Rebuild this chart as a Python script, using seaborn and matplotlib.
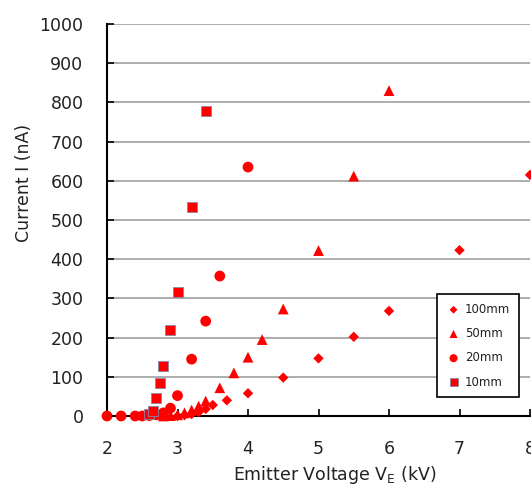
import numpy as np
import pandas as pd
import matplotlib
matplotlib.use("Agg")
import matplotlib.pyplot as plt
import seaborn as sns

# ---- data ----
x_100 = [3.0, 3.1, 3.2, 3.3, 3.4, 3.5, 3.7, 4.0, 4.5, 5.0, 5.5, 6.0, 7.0, 8.0]
y_100 = [0, 2, 5, 10, 18, 28, 40, 58, 98, 147, 202, 268, 423, 615]
x_50 = [2.8, 2.9, 3.0, 3.1, 3.2, 3.3, 3.4, 3.6, 3.8, 4.0, 4.2, 4.5, 5.0, 5.5, 6.0]
y_50 = [0, 1, 3, 8, 15, 25, 38, 72, 110, 150, 195, 273, 422, 612, 830]
x_20 = [2.0, 2.2, 2.4, 2.5, 2.6, 2.7, 2.8, 2.9, 3.0, 3.2, 3.4, 3.6, 4.0]
y_20 = [0, 0, 0, 0, 1, 3, 8, 20, 52, 145, 242, 357, 635]
x_10 = [2.6, 2.65, 2.7, 2.75, 2.8, 2.9, 3.0, 3.2, 3.4]
y_10 = [5, 12, 45, 85, 128, 219, 316, 533, 778]
series = ["100mm", "50mm", "20mm", "10mm"]
x_ticks = [2, 3, 4, 5, 6, 7, 8]
y_ticks = [0, 100, 200, 300, 400, 500, 600, 700, 800, 900, 1000]

df = pd.concat([
    pd.DataFrame({"V": x_100, "I": y_100, "s": "100mm"}),
    pd.DataFrame({"V": x_50, "I": y_50, "s": "50mm"}),
    pd.DataFrame({"V": x_20, "I": y_20, "s": "20mm"}),
    pd.DataFrame({"V": x_10, "I": y_10, "s": "10mm"}),
], ignore_index=True)

sns.set_theme(style="white")
plt.rcParams["font.family"] = ["DejaVu Sans"]

fig = plt.figure(figsize=(5.31, 4.84), dpi=100)
ax = fig.add_axes([107 / 531, 1 - 416 / 484, 423 / 531, 392 / 484])

markers = {"100mm": "D", "50mm": "^", "20mm": "o", "10mm": "s"}
sizes = {"100mm": 28, "50mm": 60, "20mm": 60, "10mm": 55}
for s in series:
    sub = df[df["s"] == s]
    sns.scatterplot(data=sub, x="V", y="I", ax=ax, color="#FF0000",
                    marker=markers[s], s=sizes[s],
                    edgecolor="#8888AA" if s == "10mm" else "none",
                    linewidth=0.6 if s == "10mm" else 0,
                    label=s, clip_on=False, zorder=3)

ax.set_xlim(2, 8)
ax.set_ylim(0, 1000)
ax.set_xticks(x_ticks)
ax.set_yticks(y_ticks)
ax.yaxis.grid(True, color="#A0A0A0", linewidth=1.2)
ax.xaxis.grid(False)
for side in ["top", "right"]:
    ax.spines[side].set_visible(False)
for side in ["left", "bottom"]:
    ax.spines[side].set_color("black")
    ax.spines[side].set_linewidth(1.5)
ax.tick_params(axis="both", direction="in", length=5, width=1.2,
               colors="black", labelsize=12.5, pad=17, labelcolor="#222222")
ax.tick_params(axis="x", bottom=True)
ax.tick_params(axis="y", left=True)

ax.set_xlabel("Emitter Voltage V$_\\mathrm{E}$ (kV)", fontsize=12.5, color="#222222")
ax.set_ylabel("Current I (nA)", fontsize=12.5, color="#222222")
ax.xaxis.set_label_coords((335 - 107) / 423, (416 - 464) / 392)
ax.yaxis.set_label_coords((33 - 107) / 423, (416 - 183) / 392)

leg = ax.legend(loc="upper left", bbox_to_anchor=((437 - 107) / 423, (416 - 294) / 392),
                fontsize=8.5, frameon=True, fancybox=False,
                edgecolor="black", framealpha=1, borderpad=0.75,
                labelspacing=0.95, handletextpad=0.3, handlelength=1.3,
                borderaxespad=0, markerscale=0.75)
leg.get_frame().set_linewidth(1.2)
for t in leg.get_texts():
    t.set_color("#222222")

fig.savefig("out.png", dpi=100)
